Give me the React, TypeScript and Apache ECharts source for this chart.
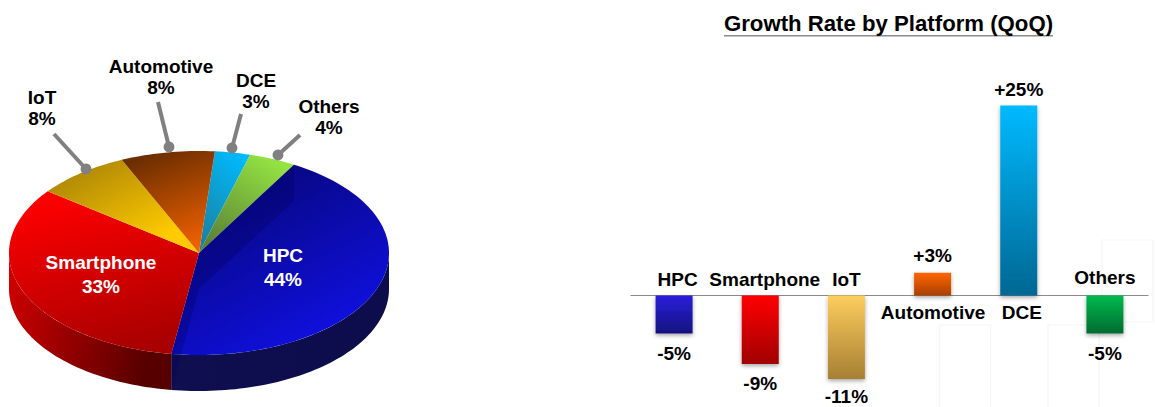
import React, { useEffect, useRef } from "react";
import * as echarts from "echarts";

// ---------- data ----------
const shareNames = ["DCE", "Others", "HPC", "Smartphone", "IoT", "Automotive"];
const shareValues = [3, 4, 44, 33, 8, 8];

const growthCategories = ["HPC", "Smartphone", "IoT", "Automotive", "DCE", "Others"];
const growthValues = [-5, -9, -11, 3, 25, -5];

const chartTitle = "Growth Rate by Platform (QoQ)";

// ---------- layout / style ----------
const FONT = '"Liberation Sans", Arial, sans-serif';
const CX = 199;
const CY = 253;
const RX = 190;
const RY = 102;
const DEPTH = 36;
const START_DEG = 4.8;

const lin = (x: number, y: number, x2: number, y2: number, a: string, b: string) =>
  new echarts.graphic.LinearGradient(x, y, x2, y2, [
    { offset: 0, color: a },
    { offset: 1, color: b },
  ]);

const sliceStyle: Record<string, () => any> = {
  DCE: () => lin(0.7, 0, 0.2, 1, "#00b9fb", "#1c7f9e"),
  Others: () => lin(0.7, 0, 0.1, 1, "#94e342", "#567a35"),
  HPC: () => lin(0.2, 0.1, 0.7, 0.95, "#07077c", "#1010e2"),
  Smartphone: () => lin(0.3, 0, 0.6, 1, "#ff0000", "#a80000"),
  IoT: () => lin(0, 0, 0.75, 0.85, "#9f7a08", "#ffcb00"),
  Automotive: () => lin(0.4, 0, 0.75, 1, "#6c2e00", "#f56300"),
};

const wallStyle: Record<string, () => any> = {
  HPC: () => lin(0, 0, 1, 0, "#0e0e50", "#0d0d4c"),
  Smartphone: () => lin(0, 0, 1, 0.25, "#d40000", "#560000"),
};

// where each outside label, leader line and dot sit (px)
const calloutLayout: Record<string, { text: [number, number]; from: [number, number]; dot: [number, number] }> = {
  IoT: { text: [42, 108], from: [54, 134], dot: [86, 169] },
  Automotive: { text: [161, 77], from: [158, 102], dot: [169, 147] },
  DCE: { text: [256, 91], from: [241, 114], dot: [232, 148] },
  Others: { text: [329, 117], from: [300, 135], dot: [278, 155] },
};
const insideLayout: Record<string, [number, number]> = {
  HPC: [283, 267],
  Smartphone: [101, 274],
};

const barColors: Record<string, [string, string]> = {
  HPC: ["#2a20dc", "#14107c"],
  Smartphone: ["#ff0000", "#a00000"],
  IoT: ["#fdcd5e", "#a67f33"],
  Automotive: ["#ff6600", "#a84000"],
  DCE: ["#00baff", "#006793"],
  Others: ["#00ba4e", "#006b30"],
};

const categoryLabelOffset: Record<string, [number, number]> = {
  HPC: [3.5, -16.5],
  Smartphone: [4.5, -16.5],
  IoT: [0, -16.5],
  Automotive: [0.5, 16.5],
  DCE: [3, 16.5],
  Others: [0, -18.5],
};

const valueLabelDistance: Record<string, number> = {
  HPC: 10,
  Smartphone: 10,
  IoT: 8,
  Automotive: 8,
  DCE: 7,
  Others: 10,
};

const faintBoxes = [
  { x: 1102, y: 240, width: 51, height: 82 },
  { x: 939.5, y: 325, width: 51, height: 90 },
  { x: 1048, y: 325, width: 51, height: 90 },
];

// ---------- geometry helpers ----------
const total = shareValues.reduce((a, b) => a + b, 0);
const pt = (deg: number, dy = 0): [number, number] => {
  const r = (deg * Math.PI) / 180;
  return [CX + RX * Math.sin(r), CY - RY * Math.cos(r) + dy];
};
const arc = (a: number, b: number, dy = 0): [number, number][] => {
  const out: [number, number][] = [];
  const n = Math.max(2, Math.ceil(Math.abs(b - a) / 1.5));
  for (let i = 0; i <= n; i++) out.push(pt(a + ((b - a) * i) / n, dy));
  return out;
};
const sliceRange = (idx: number): [number, number] => {
  let before = 0;
  for (let i = 0; i < idx; i++) before += shareValues[i];
  return [
    START_DEG + (before / total) * 360,
    START_DEG + ((before + shareValues[idx]) / total) * 360,
  ];
};

const renderSlice = (params: any) => {
  const idx = params.dataIndex;
  const name = shareNames[idx];
  const [a, b] = sliceRange(idx);
  const children: any[] = [];

  // visible outer wall: the part of the rim in the front half
  const wa = Math.max(a, 90);
  const wb = Math.min(b, 270);
  if (wb > wa) {
    const wall = [...arc(wa, wb), ...arc(wb, wa, DEPTH)];
    children.push({
      type: "polygon",
      shape: { points: wall },
      style: { fill: (wallStyle[name] || sliceStyle[name])() },
    });
  }
  // top face
  children.push({
    type: "polygon",
    shape: { points: [[CX, CY], ...arc(a, b)] },
    style: { fill: sliceStyle[name]() },
  });
  // the large slice shows its cut faces through the surface
  if (name === "HPC") {
    const cut = "rgba(0,0,90,0.28)";
    const p = pt(a);
    const q = pt(b);
    children.push({
      type: "polygon",
      shape: { points: [[CX, CY], p, [p[0], p[1] + DEPTH], [CX, CY + DEPTH]] },
      style: { fill: cut },
    });
    children.push({
      type: "polygon",
      shape: { points: [[CX, CY], q, [q[0], q[1] + DEPTH], [CX, CY + DEPTH]] },
      style: { fill: cut },
    });
  }
  return { type: "group", children };
};

const renderCallout = (params: any) => {
  const idx = params.dataIndex;
  const name = shareNames[idx];
  const text = `${name}\n${shareValues[idx]}%`;
  const inside = insideLayout[name];
  if (inside) {
    return {
      type: "text",
      style: {
        text,
        x: inside[0],
        y: inside[1],
        fill: "#ffffff",
        font: `bold 19px ${FONT}`,
        align: "center",
        verticalAlign: "middle",
        lineHeight: 24,
      },
    };
  }
  const l = calloutLayout[name];
  return {
    type: "group",
    children: [
      {
        type: "line",
        shape: { x1: l.from[0], y1: l.from[1], x2: l.dot[0], y2: l.dot[1] },
        style: { stroke: "#808080", lineWidth: 4 },
      },
      {
        type: "circle",
        shape: { cx: l.dot[0], cy: l.dot[1], r: 5.4 },
        style: { fill: "#808080" },
      },
      {
        type: "text",
        style: {
          text,
          x: l.text[0],
          y: l.text[1],
          fill: "#000000",
          font: `bold 19px ${FONT}`,
          align: "center",
          verticalAlign: "middle",
          lineHeight: 21,
        },
      },
    ],
  };
};

const renderCategoryLabel = (params: any, api: any) => {
  const name = growthCategories[params.dataIndex];
  const o = categoryLabelOffset[name];
  const p = api.coord([params.dataIndex, 0]);
  return {
    type: "text",
    style: {
      text: name,
      x: p[0] + o[0],
      y: p[1] + o[1],
      fill: "#000000",
      font: `bold 19px ${FONT}`,
      align: "center",
      verticalAlign: "middle",
    },
  };
};

const barData = growthValues.map((v, i) => {
  const name = growthCategories[i];
  const c = barColors[name];
  const up = v > 0;
  return {
    value: v,
    itemStyle: {
      color: lin(0, 0, 0, 1, c[0], c[1]),
      shadowBlur: 4,
      shadowColor: "rgba(0,0,0,0.35)",
      shadowOffsetY: 2,
    },
    label: {
      show: true,
      position: up ? "top" : "bottom",
      distance: valueLabelDistance[name],
      formatter: `${up ? "+" : ""}${v}%`,
      color: "#000000",
      fontFamily: FONT,
      fontWeight: "bold",
      fontSize: 19,
    },
  };
});

const option: any = {
  animation: false,
  backgroundColor: "#ffffff",
  title: {
    text: chartTitle,
    left: 883.5,
    top: 7,
    textAlign: "center",
    textStyle: { fontFamily: FONT, fontWeight: "bold", fontSize: 22.2, color: "#000000" },
  },
  grid: { left: 631, right: 7, top: 67.5, bottom: 5.1, containLabel: false },
  xAxis: {
    type: "category",
    data: growthCategories,
    axisLine: { onZero: true, lineStyle: { color: "#8a8a8a", width: 1.2 } },
    axisTick: { show: false },
    axisLabel: { show: false },
    splitLine: { show: false },
  },
  yAxis: { type: "value", min: -14, max: 30, show: false, splitLine: { show: false } },
  graphic: {
    elements: [
      {
        type: "line",
        shape: { x1: 724, y1: 35.7, x2: 1053, y2: 35.7 },
        style: { stroke: "#8c8c8c", lineWidth: 1.6 },
        z: 5,
      },
      ...faintBoxes.map((b) => ({
        type: "rect",
        shape: b,
        style: { fill: "rgba(255,255,255,0)", stroke: "#f5f5f5", lineWidth: 1.2 },
        z: 0,
      })),
    ],
  },
  series: [
    {
      type: "custom",
      name: "Share",
      coordinateSystem: "none",
      data: shareValues,
      renderItem: renderSlice,
      z: 2,
      silent: true,
    },
    {
      type: "custom",
      name: "Share labels",
      coordinateSystem: "none",
      data: shareValues,
      renderItem: renderCallout,
      z: 3,
      silent: true,
    },
    {
      type: "bar",
      name: "Growth",
      data: barData,
      barWidth: 37,
      z: 4,
    },
    {
      type: "custom",
      name: "Platform labels",
      coordinateSystem: "cartesian2d",
      data: growthCategories.map((_, i) => [i, 0]),
      encode: { x: 0, y: 1 },
      renderItem: renderCategoryLabel,
      z: 5,
      silent: true,
    },
  ],
};

export default function App() {
  const ref = useRef<HTMLDivElement>(null);
  useEffect(() => {
    if (!ref.current) return;
    const chart = echarts.init(ref.current, undefined, { renderer: "svg" });
    chart.setOption(option);
    return () => chart.dispose();
  }, []);
  return (
    <div
      ref={ref}
      style={{ position: "fixed", left: 0, top: 0, width: 1155, height: 407, overflow: "hidden" }}
    />
  );
}
